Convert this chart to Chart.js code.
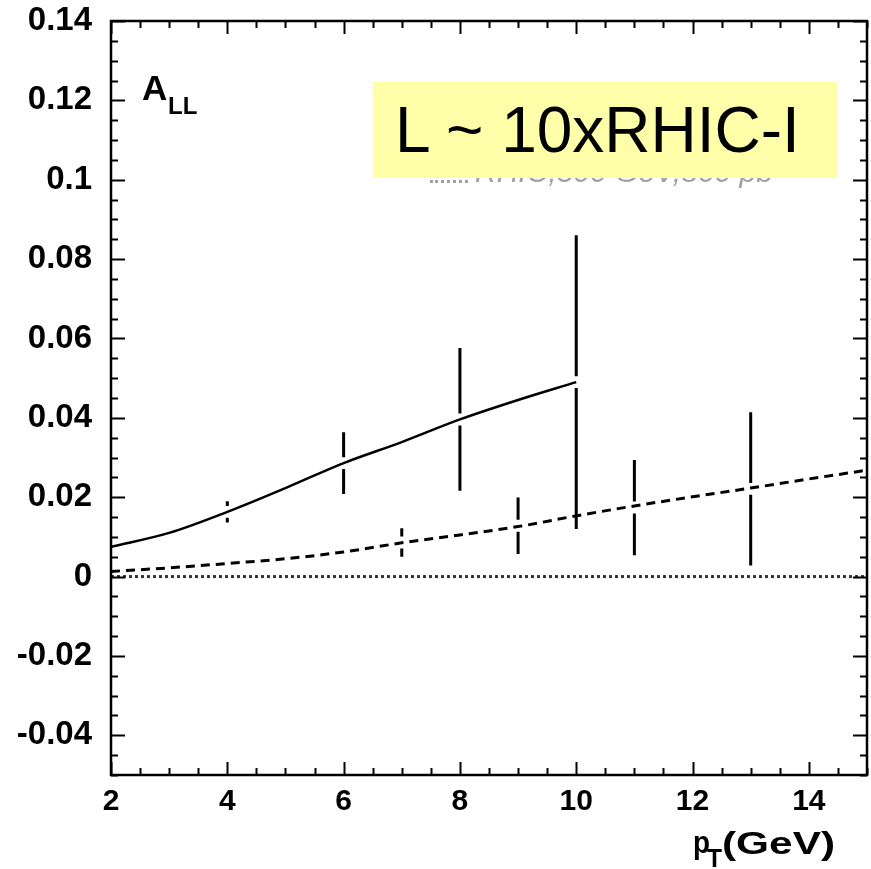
<!DOCTYPE html>
<html>
<head>
<meta charset="utf-8">
<script src="https://cdn.jsdelivr.net/npm/chart.js@4.4.1/dist/chart.umd.min.js"></script>
<style>
  html, body { margin: 0; padding: 0; background: #fff; }
  #wrap { position: relative; width: 871px; height: 869px; }
  #chart { position: absolute; left: 0; top: 0; }
  .ghost { position: absolute; left: 475px; top: 157px; font: italic 30px "Liberation Sans", Arial, sans-serif;
           line-height: 30px; color: #a0a0a0; white-space: nowrap; }
  .ghostDots { position: absolute; left: 430px; top: 180px; width: 38px; border-top: 3px dotted #a0a0a0; }
  .lumi { position: absolute; left: 373px; top: 82px; width: 464px; height: 96px; background: #ffffaa; }
  .lumi span { position: absolute; left: 22px; top: 16px; font: 64px "Liberation Sans", Arial, sans-serif;
               line-height: 64px; color: #000; white-space: nowrap; }
</style>
</head>
<body>
<div id="wrap">
  <canvas id="chart" width="871" height="869"></canvas>
  <div class="ghostDots"></div>
  <div class="ghost">RHIC,500 GeV,800 pb</div>
  <div class="lumi"><span>L ~ 10xRHIC-I</span></div>
</div>
<script>
// theory curves
const solidX = [2, 3, 4, 5, 6, 7, 8, 9, 10];
const solidY = [0.0075, 0.011, 0.0163, 0.0223, 0.0286, 0.0339, 0.0396, 0.0445, 0.049];
const dashX = [2, 3, 4, 5, 6, 7, 8, 9, 10, 11, 12, 13, 14, 15];
const dashY = [0.0013, 0.0022, 0.0033, 0.0045, 0.0062, 0.0085, 0.0105, 0.0126, 0.0153, 0.0178, 0.0201, 0.0223, 0.0246, 0.0268];

// projected points with errors
const errX = [4, 6, 8, 10, 7, 9, 11, 13];
const errY = [0.0163, 0.0286, 0.0396, 0.049, 0.0086, 0.0128, 0.0174, 0.0221];
const errSize = [0.0027, 0.0078, 0.018, 0.037, 0.0036, 0.0071, 0.012, 0.0193];

const xTicks = [2, 4, 6, 8, 10, 12, 14];
const yTicks = [-0.04, -0.02, 0, 0.02, 0.04, 0.06, 0.08, 0.1, 0.12, 0.14];

const FONT = '"Liberation Sans", Arial, sans-serif';
const BAR_GAP = 0.0015; // white break around the central value

function toPoints(xs, ys) {
    return xs.map((x, i) => ({x: x, y: ys[i]}));
}

function errorBars() {
    const pts = [];
    errX.forEach((x, i) => {
        pts.push({x: x, y: errY[i] - errSize[i]});
        pts.push({x: x, y: errY[i] - BAR_GAP});
        pts.push({x: x, y: null});
        pts.push({x: x, y: errY[i] + BAR_GAP});
        pts.push({x: x, y: errY[i] + errSize[i]});
        pts.push({x: x, y: null});
    });
    return pts;
}

// draw text squeezed/stretched to a given width
function fitText(ctx, txt, x, y, w) {
    const nat = ctx.measureText(txt).width;
    ctx.save();
    ctx.translate(x, y);
    ctx.scale(w / nat, 1);
    ctx.fillText(txt, 0, 0);
    ctx.restore();
}

const frameTicks = {
    id: 'frameTicks',
    afterDatasetsDraw(chart) {
        const {ctx, chartArea: a, scales: {x, y}} = chart;
        ctx.save();
        ctx.strokeStyle = '#000';
        ctx.lineWidth = 2;
        ctx.beginPath();
        for (let i = -10; i <= 28; i++) {
            const py = Math.round(y.getPixelForValue(i * 0.005)) + 0.5;
            const len = i % 4 === 0 ? 14 : 7;
            ctx.moveTo(a.left, py); ctx.lineTo(a.left + len, py);
            ctx.moveTo(a.right, py); ctx.lineTo(a.right - len, py);
        }
        for (let i = 4; i <= 30; i++) {
            const px = Math.round(x.getPixelForValue(i * 0.5)) + 0.5;
            const len = i % 4 === 0 ? 13 : 7;
            ctx.moveTo(px, a.bottom); ctx.lineTo(px, a.bottom - len);
            ctx.moveTo(px, a.top); ctx.lineTo(px, a.top + len);
        }
        ctx.stroke();
        ctx.lineWidth = 2.5;
        ctx.strokeRect(a.left, a.top, a.right - a.left, a.bottom - a.top);

        // axis titles
        ctx.fillStyle = '#000';
        ctx.textBaseline = 'alphabetic';
        ctx.font = 'bold 35px ' + FONT;
        ctx.fillText('A', 142, 100);
        ctx.font = 'bold 24px ' + FONT;
        ctx.fillText('LL', 168, 114);

        ctx.font = 'bold 31px ' + FONT;
        fitText(ctx, 'p', 693, 853, 17);
        ctx.font = 'bold 26px ' + FONT;
        fitText(ctx, 'T', 707, 867, 15);
        ctx.font = 'bold 31px ' + FONT;
        fitText(ctx, '(GeV)', 722, 854, 113);
        ctx.restore();
    }
};

new Chart(document.getElementById('chart'), {
    type: 'line',
    data: {
        datasets: [{
            data: [{x: 2, y: 0}, {x: 15, y: 0}],
            borderColor: '#333',
            borderWidth: 3,
            borderDash: [3, 3],
            pointRadius: 0
        }, {
            data: errorBars(),
            borderColor: '#000',
            borderWidth: 3,
            pointRadius: 0,
            spanGaps: false
        }, {
            data: toPoints(solidX, solidY),
            borderColor: '#000',
            borderWidth: 2.5,
            cubicInterpolationMode: 'monotone',
            pointRadius: 0
        }, {
            data: toPoints(dashX, dashY),
            borderColor: '#000',
            borderWidth: 3,
            borderDash: [9, 6],
            cubicInterpolationMode: 'monotone',
            pointRadius: 0
        }]
    },
    options: {
        responsive: false,
        animation: false,
        layout: {padding: {top: 21, right: 4, left: 0, bottom: 0}},
        plugins: {legend: {display: false}, tooltip: {enabled: false}},
        scales: {
            x: {
                type: 'linear',
                min: 2,
                max: 15,
                afterBuildTicks: (scale) => { scale.ticks = xTicks.map(v => ({value: v})); },
                afterFit: (scale) => { scale.height = 94; },
                grid: {display: false, drawTicks: false},
                border: {display: false},
                ticks: {padding: 9, color: '#000', font: {family: FONT, size: 30, weight: 'bold'}}
            },
            y: {
                type: 'linear',
                min: -0.05,
                max: 0.14,
                afterBuildTicks: (scale) => { scale.ticks = yTicks.map(v => ({value: v})); },
                afterFit: (scale) => {
                    scale.width = 111;
                    // let the layout padding decide where the plot starts
                    scale.paddingTop = 0;
                    scale.paddingBottom = 0;
                },
                grid: {display: false, drawTicks: false},
                border: {display: false},
                ticks: {
                    padding: 19,
                    color: '#000',
                    font: {family: FONT, size: 33, weight: 'bold'},
                    callback: (v) => String(Math.round(v * 100) / 100)
                }
            }
        }
    },
    plugins: [frameTicks]
});
</script>
</body>
</html>
